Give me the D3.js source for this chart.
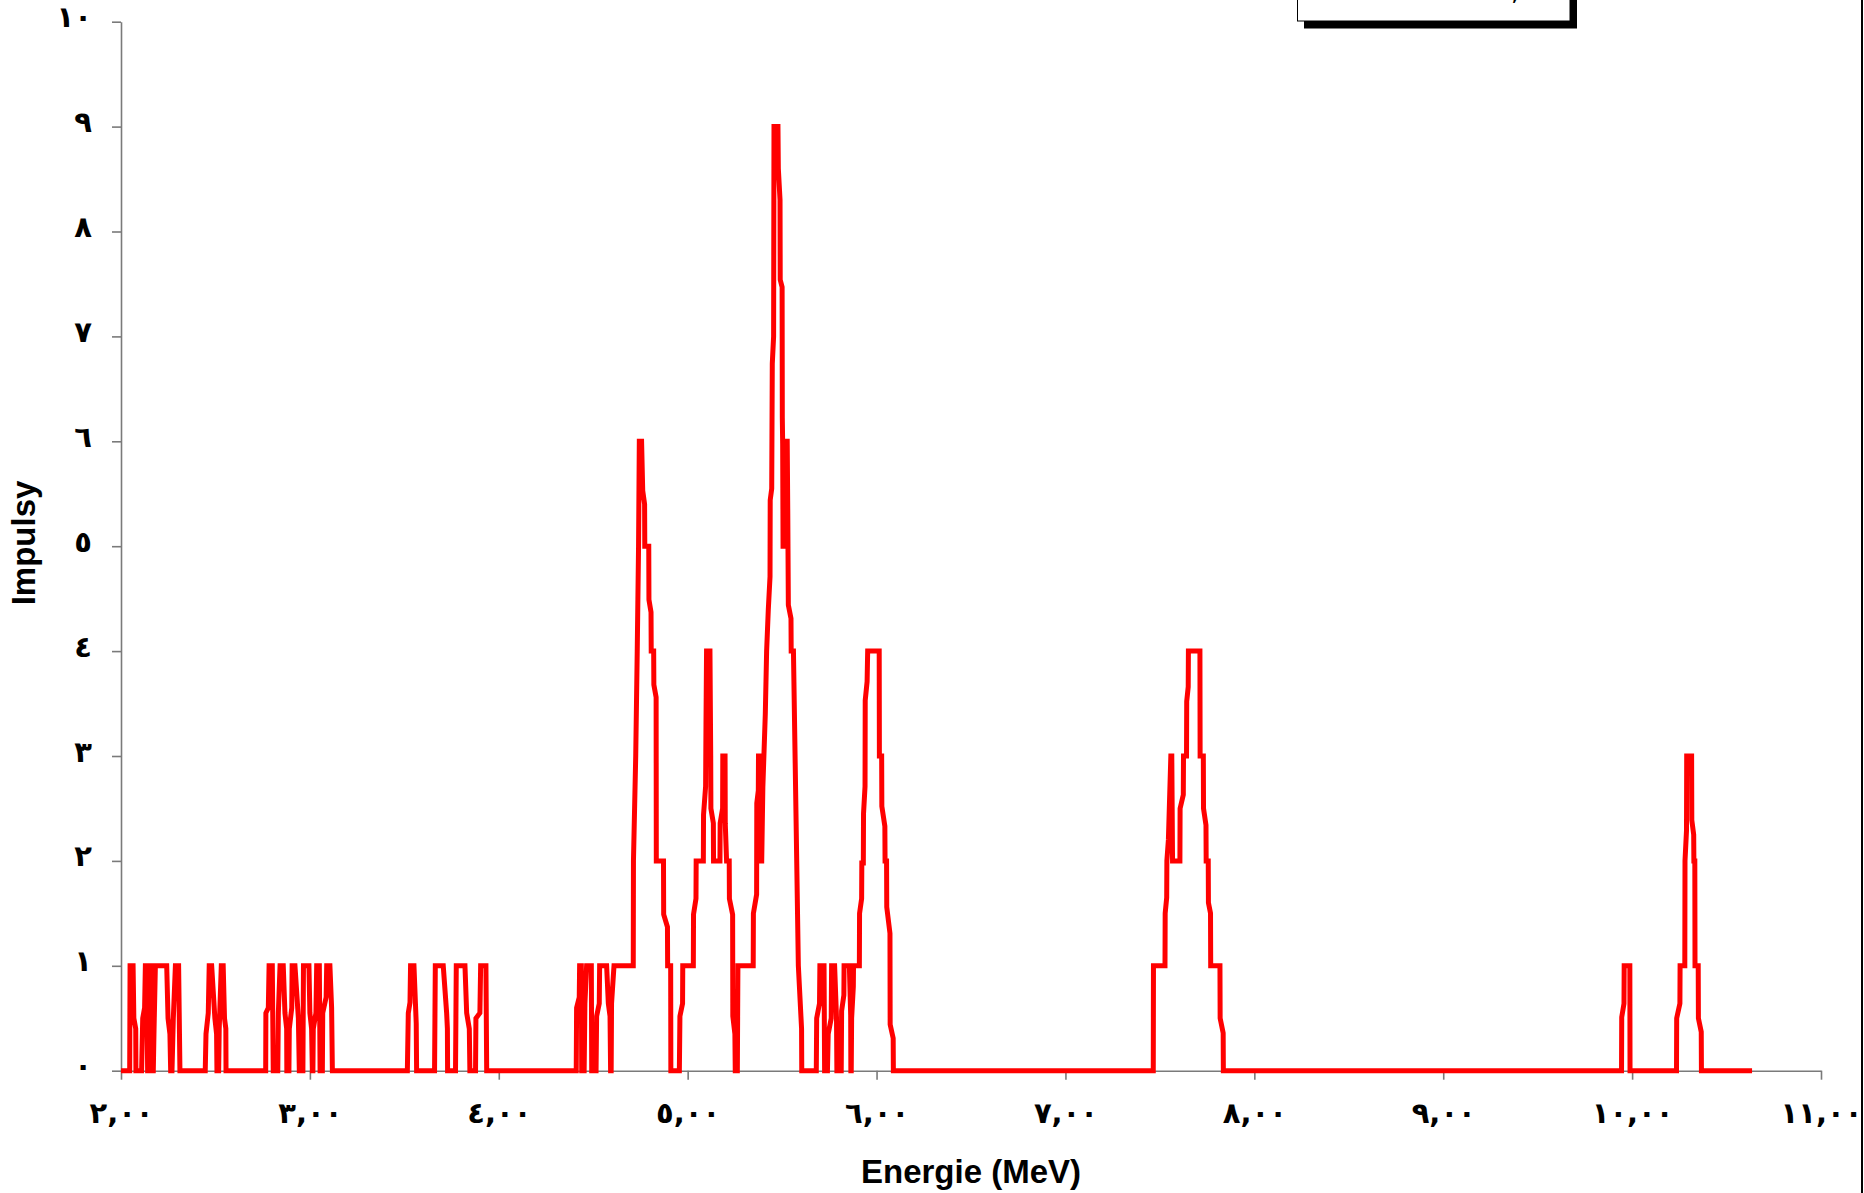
<!DOCTYPE html>
<html>
<head>
<meta charset="utf-8">
<script src="https://cdn.jsdelivr.net/npm/d3@7"></script>
<style>
  body { margin: 0; background: #fff; }
  svg { display: block; }
</style>
</head>
<body>
<svg id="chart"></svg>
<script>
// vertices of the spectrum line (energy in MeV, counts)
const energie = [
  2.000, 2.046, 2.048, 2.064, 2.068, 2.078, 2.079,
  2.109, 2.115, 2.125, 2.129, 2.136, 2.141, 2.148, 2.154, 2.161, 2.164, 2.171, 2.175, 2.182,
  2.242, 2.249, 2.259, 2.263, 2.270, 2.277, 2.288, 2.305, 2.312,
  2.446, 2.450, 2.462, 2.467, 2.480, 2.497, 2.506, 2.508, 2.517, 2.520, 2.531, 2.541, 2.548, 2.555, 2.556,
  2.766, 2.767, 2.780, 2.784, 2.801, 2.806, 2.830, 2.833, 2.842, 2.859, 2.868, 2.877, 2.878,
  2.889, 2.891, 2.904, 2.906, 2.921, 2.939, 2.944, 2.963, 2.966, 2.995, 3.000, 3.009, 3.013,
  3.016, 3.018, 3.032, 3.036, 3.050, 3.052, 3.054, 3.066, 3.068, 3.086, 3.089, 3.106, 3.115, 3.119,
  3.516, 3.521, 3.530, 3.533, 3.551, 3.563, 3.565, 3.660, 3.664, 3.706, 3.724, 3.728, 3.729,
  3.771, 3.775, 3.821, 3.830, 3.844, 3.847, 3.877, 3.879, 3.900, 3.904, 3.932, 3.936,
  4.410, 4.412, 4.426, 4.428, 4.437, 4.439, 4.452, 4.456, 4.465, 4.490, 4.492,
  4.515, 4.518, 4.532, 4.534, 4.571, 4.580, 4.589, 4.592, 4.595, 4.597, 4.610,
  4.712, 4.713, 4.725, 4.733, 4.740, 4.744, 4.756, 4.762, 4.772, 4.773, 4.794, 4.795, 4.806, 4.807,
  4.820, 4.821, 4.833, 4.834, 4.872, 4.873, 4.893, 4.894, 4.910, 4.911,
  4.956, 4.959, 4.973, 4.974, 5.030, 5.031, 5.044, 5.045, 5.083, 5.084, 5.095, 5.097, 5.100, 5.118,
  5.122, 5.123, 5.136, 5.137, 5.171, 5.172, 5.185, 5.186, 5.198, 5.199, 5.206, 5.220, 5.221, 5.238,
  5.239, 5.250, 5.252, 5.263, 5.266,
  5.347, 5.348, 5.365, 5.366, 5.374, 5.375, 5.383, 5.384, 5.392, 5.398, 5.411, 5.418, 5.427,
  5.436, 5.437, 5.445, 5.448, 5.455, 5.457, 5.478, 5.480, 5.489, 5.490, 5.500, 5.501, 5.503,
  5.505, 5.515, 5.518, 5.527, 5.530, 5.533, 5.547, 5.548, 5.560, 5.586, 5.603, 5.604,
  5.681, 5.683, 5.698, 5.700, 5.722, 5.725, 5.740, 5.744, 5.760, 5.762, 5.778, 5.788, 5.790,
  5.813, 5.815, 5.827, 5.828, 5.856, 5.863, 5.864, 5.866, 5.868, 5.877, 5.878, 5.909, 5.910,
  5.921, 5.922, 5.930, 5.931, 5.939, 5.940, 5.950, 5.953, 6.014, 6.015, 6.027, 6.028, 6.044, 6.045,
  6.053, 6.054, 6.071, 6.072, 6.088, 6.089,
  7.465, 7.466, 7.527, 7.528, 7.536, 7.537, 7.545, 7.558, 7.563, 7.567, 7.606, 7.607, 7.624, 7.625,
  7.641, 7.642, 7.650, 7.651, 7.712, 7.713, 7.730, 7.731, 7.744, 7.745, 7.756, 7.757, 7.768, 7.769,
  7.818, 7.819, 7.835, 7.836,
  9.944, 9.945, 9.957, 9.958, 9.988, 9.989,
  10.235, 10.236, 10.253, 10.254, 10.279, 10.280, 10.288, 10.289, 10.315, 10.316, 10.326, 10.327,
  10.332, 10.333, 10.350, 10.351, 10.366, 10.367, 10.635
];
const impulsy = [
  0, 0, 1, 1, 0.5, 0.4, 0,
  0, 0.5, 0.6, 1, 1, 0, 0, 1, 1, 0, 0, 0.4, 1,
  1, 0.5, 0.35, 0, 0, 0.5, 1, 1, 0,
  0, 0.35, 0.55, 1, 1, 0.5, 0.35, 0, 0, 0.4, 1, 1, 0.5, 0.4, 0,
  0, 0.55, 0.6, 1, 1, 0, 0, 0.55, 1, 1, 0.55, 0.4, 0,
  0, 0.4, 0.6, 1, 1, 0.5, 0, 0, 1, 1, 0.55, 0.4, 0,
  0, 0.4, 0.55, 1, 1, 0.5, 0, 0, 0.55, 0.7, 1, 1, 0.6, 0,
  0, 0.55, 0.65, 1, 1, 0.45, 0, 0, 1, 1, 0.55, 0.4, 0,
  0, 1, 1, 0.55, 0.4, 0, 0, 0.5, 0.55, 1, 1, 0,
  0, 0.6, 0.7, 1, 1, 0, 0, 0.64, 1, 1, 0,
  0, 0.52, 0.64, 1, 1, 0.64, 0.52, 0, 0, 0.64, 1,
  1, 2, 3, 4, 5, 6, 6, 5.53, 5.4, 5, 5, 4.49, 4.37, 4,
  4, 3.68, 3.56, 2, 2, 1.49, 1.37, 1, 1, 0,
  0, 0.52, 0.64, 1, 1, 1.49, 1.64, 2, 2, 2.44, 2.71, 3.3, 4, 4,
  3, 2.5, 2.36, 2, 2, 2.36, 2.5, 3, 3, 2.36, 2, 2, 1.64, 1.49,
  0.52, 0.35, 0, 0, 1,
  1, 1.5, 1.68, 2.55, 2.67, 3, 3, 2, 2, 2.7, 3.4, 4, 4.4,
  4.71, 5.44, 5.55, 6.74, 7, 9, 9, 8.6, 8.3, 7.54, 7.47, 6.23, 5.97,
  5, 5, 6, 6, 5.31, 4.44, 4.31, 4, 4, 1, 0.4, 0,
  0, 0.5, 0.64, 1, 1, 0, 0, 0.35, 0.5, 1, 1, 0.5, 0,
  0, 0.57, 0.72, 1, 1, 0.53, 0, 0, 0.5, 0.8, 1, 1, 1.5,
  1.64, 1.98, 1.98, 2.45, 2.71, 3.53, 3.71, 4, 4, 3, 3, 2.52, 2.33, 2,
  2, 1.56, 1.31, 0.44, 0.31, 0,
  0, 1, 1, 1.5, 1.65, 2, 2.2, 3, 3, 2, 2, 2.5, 2.63, 3,
  3, 3.52, 3.66, 4, 4, 3, 3, 2.5, 2.34, 2, 2, 1.6, 1.5, 1,
  1, 0.5, 0.36, 0,
  0, 0.51, 0.64, 1, 1, 0,
  0, 0.5, 0.64, 1, 1, 2, 2.29, 3, 3, 2.39, 2.25, 2,
  2, 1, 1, 0.5, 0.37, 0, 0
];

const xTicks = [2, 3, 4, 5, 6, 7, 8, 9, 10, 11];
const xTickLabels = ["٢,٠٠", "٣,٠٠", "٤,٠٠", "٥,٠٠", "٦,٠٠", "٧,٠٠", "٨,٠٠", "٩,٠٠", "١٠,٠٠", "١١,٠٠"];
const yTicks = [0, 1, 2, 3, 4, 5, 6, 7, 8, 9, 10];
const yTickLabels = ["٠", "١", "٢", "٣", "٤", "٥", "٦", "٧", "٨", "٩", "١٠"];

const W = 1864, H = 1193;
const plotLeft = 121, plotRight = 1821, plotTop = 21.7, plotBottom = 1070.7;

const svg = d3.select("#chart").attr("width", W).attr("height", H);
svg.append("rect").attr("width", W).attr("height", H).attr("fill", "#fff");

const x = d3.scaleLinear().domain([2, 11]).range([plotLeft, plotRight]);
const y = d3.scaleLinear().domain([0, 10]).range([plotBottom, plotTop]);

// axes
const xAxis = svg.append("g")
    .attr("transform", "translate(0," + plotBottom + ")")
    .call(d3.axisBottom(x)
        .tickValues(xTicks)
        .tickSize(9)
        .tickSizeOuter(0)
        .tickFormat((d, i) => xTickLabels[i]));

const yAxis = svg.append("g")
    .attr("transform", "translate(" + plotLeft + ",0)")
    .call(d3.axisLeft(y)
        .tickValues(yTicks)
        .tickSize(9)
        .tickSizeOuter(0)
        .tickFormat((d, i) => yTickLabels[i]));

svg.selectAll(".domain, .tick line")
    .attr("stroke", "#7a7a7a")
    .attr("stroke-width", 1.6);

xAxis.selectAll(".tick text")
    .attr("y", 52)
    .attr("dy", null)
    .attr("fill", "#000")
    .style("font-family", "'DejaVu Sans', sans-serif")
    .style("font-weight", "bold")
    .style("font-size", "29px")
    .style("letter-spacing", "-3px");

yAxis.selectAll(".tick text")
    .attr("x", -29)
    .attr("dy", 5)
    .attr("fill", "#000")
    .style("font-family", "'DejaVu Sans', sans-serif")
    .style("font-weight", "bold")
    .style("font-size", "29px")
    .style("letter-spacing", "-3px");

// spectrum
const line = d3.line()
    .x(d => x(d[0]))
    .y(d => y(d[1]));

svg.append("path")
    .datum(energie.map((e, i) => [e, impulsy[i]]))
    .attr("fill", "none")
    .attr("stroke", "#ff0000")
    .attr("stroke-width", 5)
    .attr("stroke-linejoin", "miter")
    .attr("d", line);

// axis titles
svg.append("text")
    .attr("x", (plotLeft + plotRight) / 2)
    .attr("y", 1183)
    .attr("text-anchor", "middle")
    .style("font-family", "'Liberation Sans', Arial, sans-serif")
    .style("font-weight", "bold")
    .style("font-size", "33px")
    .text("Energie (MeV)");

svg.append("text")
    .attr("transform", "translate(35,543) rotate(-90)")
    .attr("text-anchor", "middle")
    .style("font-family", "'Liberation Sans', Arial, sans-serif")
    .style("font-weight", "bold")
    .style("font-size", "33px")
    .text("Impulsy");

// legend box, cut off at the top edge
svg.append("rect")
    .attr("x", 1304).attr("y", -10)
    .attr("width", 273).attr("height", 38.5)
    .attr("fill", "#000");
svg.append("rect")
    .attr("x", 1297.5).attr("y", -10)
    .attr("width", 272.5).attr("height", 31)
    .attr("fill", "#fff")
    .attr("stroke", "#000")
    .attr("stroke-width", 1);
svg.append("text")
    .attr("x", 1511).attr("y", 0)
    .style("font-family", "'DejaVu Sans', sans-serif")
    .style("font-size", "26px")
    .text(",");

// chart area border on the right
svg.append("line")
    .attr("x1", 1862).attr("x2", 1862)
    .attr("y1", 0).attr("y2", H)
    .attr("stroke", "#000")
    .attr("stroke-width", 2);
</script>
</body>
</html>
